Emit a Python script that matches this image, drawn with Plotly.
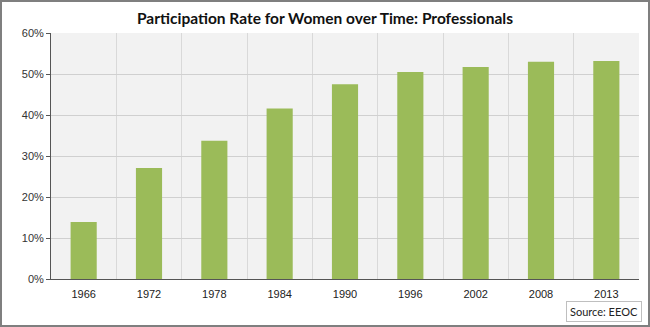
import plotly.graph_objects as go

# Share of professional jobs held by women, by survey year
years = ["1966", "1972", "1978", "1984", "1990", "1996", "2002", "2008", "2013"]
share_pct = [13.9, 27.1, 33.7, 41.6, 47.5, 50.5, 51.7, 53.0, 53.2]
y_ticks = [0, 10, 20, 30, 40, 50, 60]
y_tick_labels = ["0%", "10%", "20%", "30%", "40%", "50%", "60%"]

W, H = 650, 327
ML, MR, MT, MB = 51, 11, 33, 48
PW, PH = W - ML - MR, H - MT - MB


def px_x(p):
    return (p - ML) / PW


def px_y(p):
    return (H - MB - p) / PH


fig = go.Figure(
    go.Bar(
        x=years,
        y=share_pct,
        marker=dict(color="#9bbb59", line=dict(width=0)),
        width=0.4,
        hoverinfo="x+y",
    )
)

fig.update_layout(
    width=W,
    height=H,
    margin=dict(l=ML, r=MR, t=MT, b=MB),
    paper_bgcolor="white",
    plot_bgcolor="#f2f2f2",
    showlegend=False,
    font=dict(family="Liberation Sans, Arial, sans-serif", size=11, color="#333333"),
    title=dict(
        text="<b>Participation Rate for Women over Time: Professionals</b>",
        x=0.5,
        xref="container",
        xanchor="center",
        y=1 - 19 / H,
        yanchor="middle",
        font=dict(family="Lato, Open Sans, sans-serif", size=15.5, color="#111111"),
    ),
    xaxis=dict(
        type="category",
        tickson="boundaries",
        showgrid=True,
        gridcolor="#d9d9d9",
        gridwidth=1,
        showline=True,
        linecolor="#555555",
        linewidth=1,
        ticks="",
        ticklabelstandoff=5,
        tickfont=dict(size=11, color="#222222"),
        fixedrange=True,
    ),
    yaxis=dict(
        range=[0, 60],
        tickvals=y_ticks,
        ticktext=y_tick_labels,
        showgrid=True,
        gridcolor="#d0d0d0",
        gridwidth=1,
        zeroline=False,
        showline=True,
        linecolor="#555555",
        linewidth=1,
        ticks="outside",
        ticklen=4,
        tickcolor="#555555",
        tickfont=dict(size=11, color="#333333"),
        fixedrange=True,
    ),
)

# Frame around the whole chart
fig.add_shape(
    type="rect",
    xref="paper",
    yref="paper",
    x0=px_x(1),
    x1=px_x(W - 1),
    y0=px_y(H - 1),
    y1=px_y(1),
    line=dict(color="#7f7f7f", width=2),
    fillcolor="rgba(0,0,0,0)",
    layer="above",
)

# Source note in a small box at the lower right
fig.add_annotation(
    text="Source: EEOC",
    xref="paper",
    yref="paper",
    x=px_x(642),
    y=px_y(311),
    xanchor="right",
    yanchor="middle",
    showarrow=False,
    font=dict(family="Lato, Open Sans, sans-serif", size=11, color="#222222"),
    bordercolor="#bfbfbf",
    borderwidth=1,
    borderpad=3,
    bgcolor="white",
)

fig.write_html("out.html")
